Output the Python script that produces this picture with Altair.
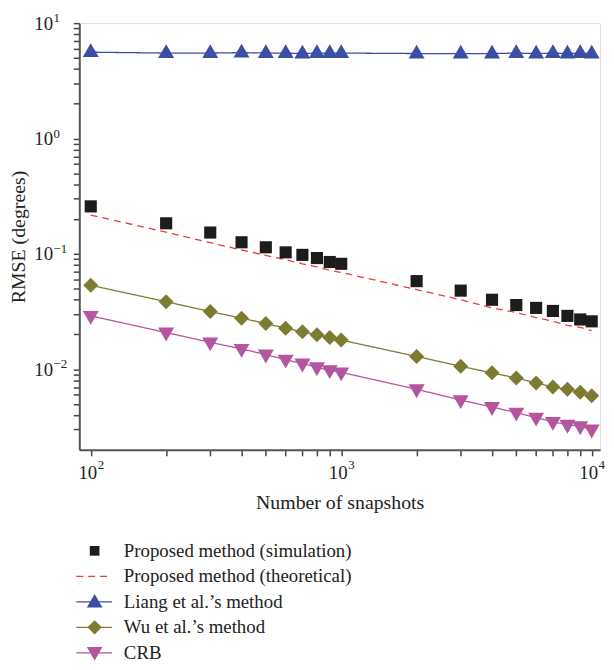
import altair as alt
import pandas as pd

snapshots = [100, 200, 300, 400, 500, 600, 700, 800, 900, 1000,
             2000, 3000, 4000, 5000, 6000, 7000, 8000, 9000, 10000]
sim = [0.258, 0.184, 0.153, 0.126, 0.114, 0.103, 0.098, 0.092, 0.085, 0.082,
       0.058, 0.048, 0.040, 0.036, 0.034, 0.032, 0.029, 0.027, 0.026]
theory = [0.217, 0.154, 0.125, 0.108, 0.097, 0.089, 0.082, 0.077, 0.072, 0.069,
          0.049, 0.040, 0.034, 0.031, 0.028, 0.026, 0.024, 0.023, 0.0216]
liang = [5.6, 5.5, 5.5, 5.55, 5.5, 5.5, 5.45, 5.5, 5.5, 5.5,
         5.45, 5.45, 5.45, 5.5, 5.45, 5.5, 5.45, 5.5, 5.45]
wu = [0.0534, 0.0385, 0.0316, 0.0277, 0.0249, 0.0227, 0.0211, 0.0199, 0.0188, 0.0179,
      0.0129, 0.0106, 0.0093, 0.0084, 0.0076, 0.0070, 0.0067, 0.0063, 0.0059]
crb = [0.029, 0.0208, 0.0171, 0.0150, 0.0134, 0.0121, 0.0112, 0.0104, 0.0098, 0.0094,
       0.0067, 0.0054, 0.0047, 0.0042, 0.0038, 0.0035, 0.0033, 0.0032, 0.0030]

names = ["Proposed method (simulation)", "Proposed method (theoretical)",
         "Liang et al.\u2019s method", "Wu et al.\u2019s method", "CRB"]
colors = ["#1c1c1c", "#ee3b3b", "#3b4ea3", "#7d7b32", "#b4559f"]
dashes = [[1, 0], [7, 5], [1, 0], [1, 0], [1, 0]]

x_major = [100, 1000, 10000]
x_exp = ["2", "3", "4"]
x_minor = [200, 300, 400, 500, 600, 700, 800, 900,
           2000, 3000, 4000, 5000, 6000, 7000, 8000, 9000]
y_major = [0.01, 0.1, 1, 10]
y_exp = ["\u22122", "\u22121", "0", "1"]
y_minor = [0.003, 0.004, 0.005, 0.006, 0.007, 0.008, 0.009,
           0.02, 0.03, 0.04, 0.05, 0.06, 0.07, 0.08, 0.09,
           0.2, 0.3, 0.4, 0.5, 0.6, 0.7, 0.8, 0.9,
           2, 3, 4, 5, 6, 7, 8, 9]

W, H = 526, 431
FONT = "Liberation Serif"
TICK = "#444444"
TXT = "#222222"

rows = []
for nm, vals in zip(names, [sim, theory, liang, wu, crb]):
    for s, v in zip(snapshots, vals):
        rows.append({"series": nm, "n": s, "rmse": v})
df = pd.DataFrame(rows)

xs = alt.Scale(type="log", domain=[90, 10800], nice=False)
ys = alt.Scale(type="log", domain=[0.002, 10], nice=False)
col = alt.Color("series:N", scale=alt.Scale(domain=names, range=colors), legend=None)
dash = alt.StrokeDash("series:N", scale=alt.Scale(domain=names, range=dashes), legend=None)

x_major_test = " || ".join(f"datum.value == {v}" for v in x_major)
y_major_test = " || ".join(f"datum.value == {v}" for v in y_major)

x_lab = alt.Axis(orient="bottom", values=x_major + x_minor, grid=False, ticks=True,
                 tickSize=6, tickColor=TICK, tickWidth=1.5, tickOpacity=1,
                 labelExpr=f"({x_major_test}) ? '10' : ''", labelOverlap=False,
                 labelAlign="right", labelOffset=6, labelFlush=False,
                 labelFont=FONT, labelFontSize=19, labelColor=TXT, labelPadding=8,
                 domainColor="#555555", domainWidth=2,
                 title="Number of snapshots", titleFont=FONT, titleFontSize=20,
                 titleFontWeight="normal", titleColor=TXT, titlePadding=10)
y_lab = alt.Axis(orient="left", values=y_major + y_minor, grid=False, ticks=True,
                 tickSize=6, tickColor=TICK, tickWidth=1.5, tickOpacity=1,
                 labelExpr=f"({y_major_test}) ? '10' : ''", labelOverlap=False,
                 labelFont=FONT, labelFontSize=19, labelColor=TXT,
                 labelFlush=False, labelPadding=21, domainColor="#555555", domainWidth=2,
                 title="RMSE (degrees)", titleFont=FONT, titleFontSize=20,
                 titleFontWeight="normal", titleColor=TXT, titlePadding=5)

base = alt.Chart(df)

lines = base.transform_filter(
    alt.FieldOneOfPredicate(field="series", oneOf=names[1:])
).mark_line(strokeWidth=1.3).encode(
    x=alt.X("n:Q", scale=xs, axis=x_lab),
    y=alt.Y("rmse:Q", scale=ys, axis=y_lab),
    color=col, strokeDash=dash, detail="series:N",
)


def pts(name, shape, size, yoff):
    return base.transform_filter(alt.datum.series == name).mark_point(
        shape=shape, size=size, filled=True, opacity=1, yOffset=yoff
    ).encode(
        x=alt.X("n:Q", scale=xs, axis=None),
        y=alt.Y("rmse:Q", scale=ys, axis=None),
        color=col,
    )


p_sim = pts(names[0], "square", 150, 0)
p_liang = pts(names[2], "triangle-up", 260, -2)
p_wu = pts(names[3], "diamond", 230, 0)
p_crb = pts(names[4], "triangle-down", 260, 2)

x_sup = alt.Chart(pd.DataFrame({"v": x_major, "e": x_exp})).mark_text(
    align="left", baseline="middle", font=FONT, fontSize=13, color=TXT, dx=7
).encode(x=alt.X("v:Q", scale=xs, axis=None), y=alt.value(H + 15), text="e:N")

y_sup = alt.Chart(pd.DataFrame({"v": y_major, "e": y_exp})).mark_text(
    align="left", baseline="middle", font=FONT, fontSize=13, color=TXT, dy=-5
).encode(y=alt.Y("v:Q", scale=ys, axis=None), x=alt.value(-26), text="e:N")

plot = alt.layer(
    lines, p_sim, p_liang, p_wu, p_crb, x_sup, y_sup
).resolve_axis(x="independent", y="independent").properties(width=W, height=H)

# legend panel
leg_df = pd.DataFrame({"series": names})
leg_y = alt.Y("series:N", sort=names, scale=alt.Scale(type="point", padding=0), axis=None)
leg_col = alt.Color("series:N", scale=alt.Scale(domain=names, range=colors), legend=None)
leg_base = alt.Chart(leg_df).encode(y=leg_y)
leg_lines = leg_base.transform_filter(
    alt.FieldOneOfPredicate(field="series", oneOf=names[1:])
).mark_rule(strokeWidth=1.3).encode(
    x=alt.value(-3), x2=alt.value(33), color=leg_col,
    strokeDash=alt.StrokeDash("series:N", scale=alt.Scale(domain=names, range=dashes), legend=None),
)


def leg_pt(name, shape, size, yoff):
    return leg_base.transform_filter(alt.datum.series == name).mark_point(
        shape=shape, size=size, filled=True, opacity=1, yOffset=yoff
    ).encode(x=alt.value(15.5), color=leg_col)


leg_text = leg_base.mark_text(align="left", baseline="middle", font=FONT, fontSize=19,
                              color=TXT).encode(x=alt.value(45), text="series:N")
legend = alt.layer(
    leg_lines,
    leg_pt(names[0], "square", 95, 0),
    leg_pt(names[2], "triangle-up", 250, -1),
    leg_pt(names[3], "diamond", 210, 0),
    leg_pt(names[4], "triangle-down", 250, 1),
    leg_text,
).properties(width=W, height=103, view=alt.ViewConfig(stroke="transparent"))

chart = alt.vconcat(plot, legend, spacing=28).configure_view(
    stroke="#111", strokeWidth=1
).configure(font=FONT, padding={"left": 0, "top": 0, "right": 0, "bottom": -4})

chart.save("out.html", embed_options={"renderer": "svg", "actions": False})
